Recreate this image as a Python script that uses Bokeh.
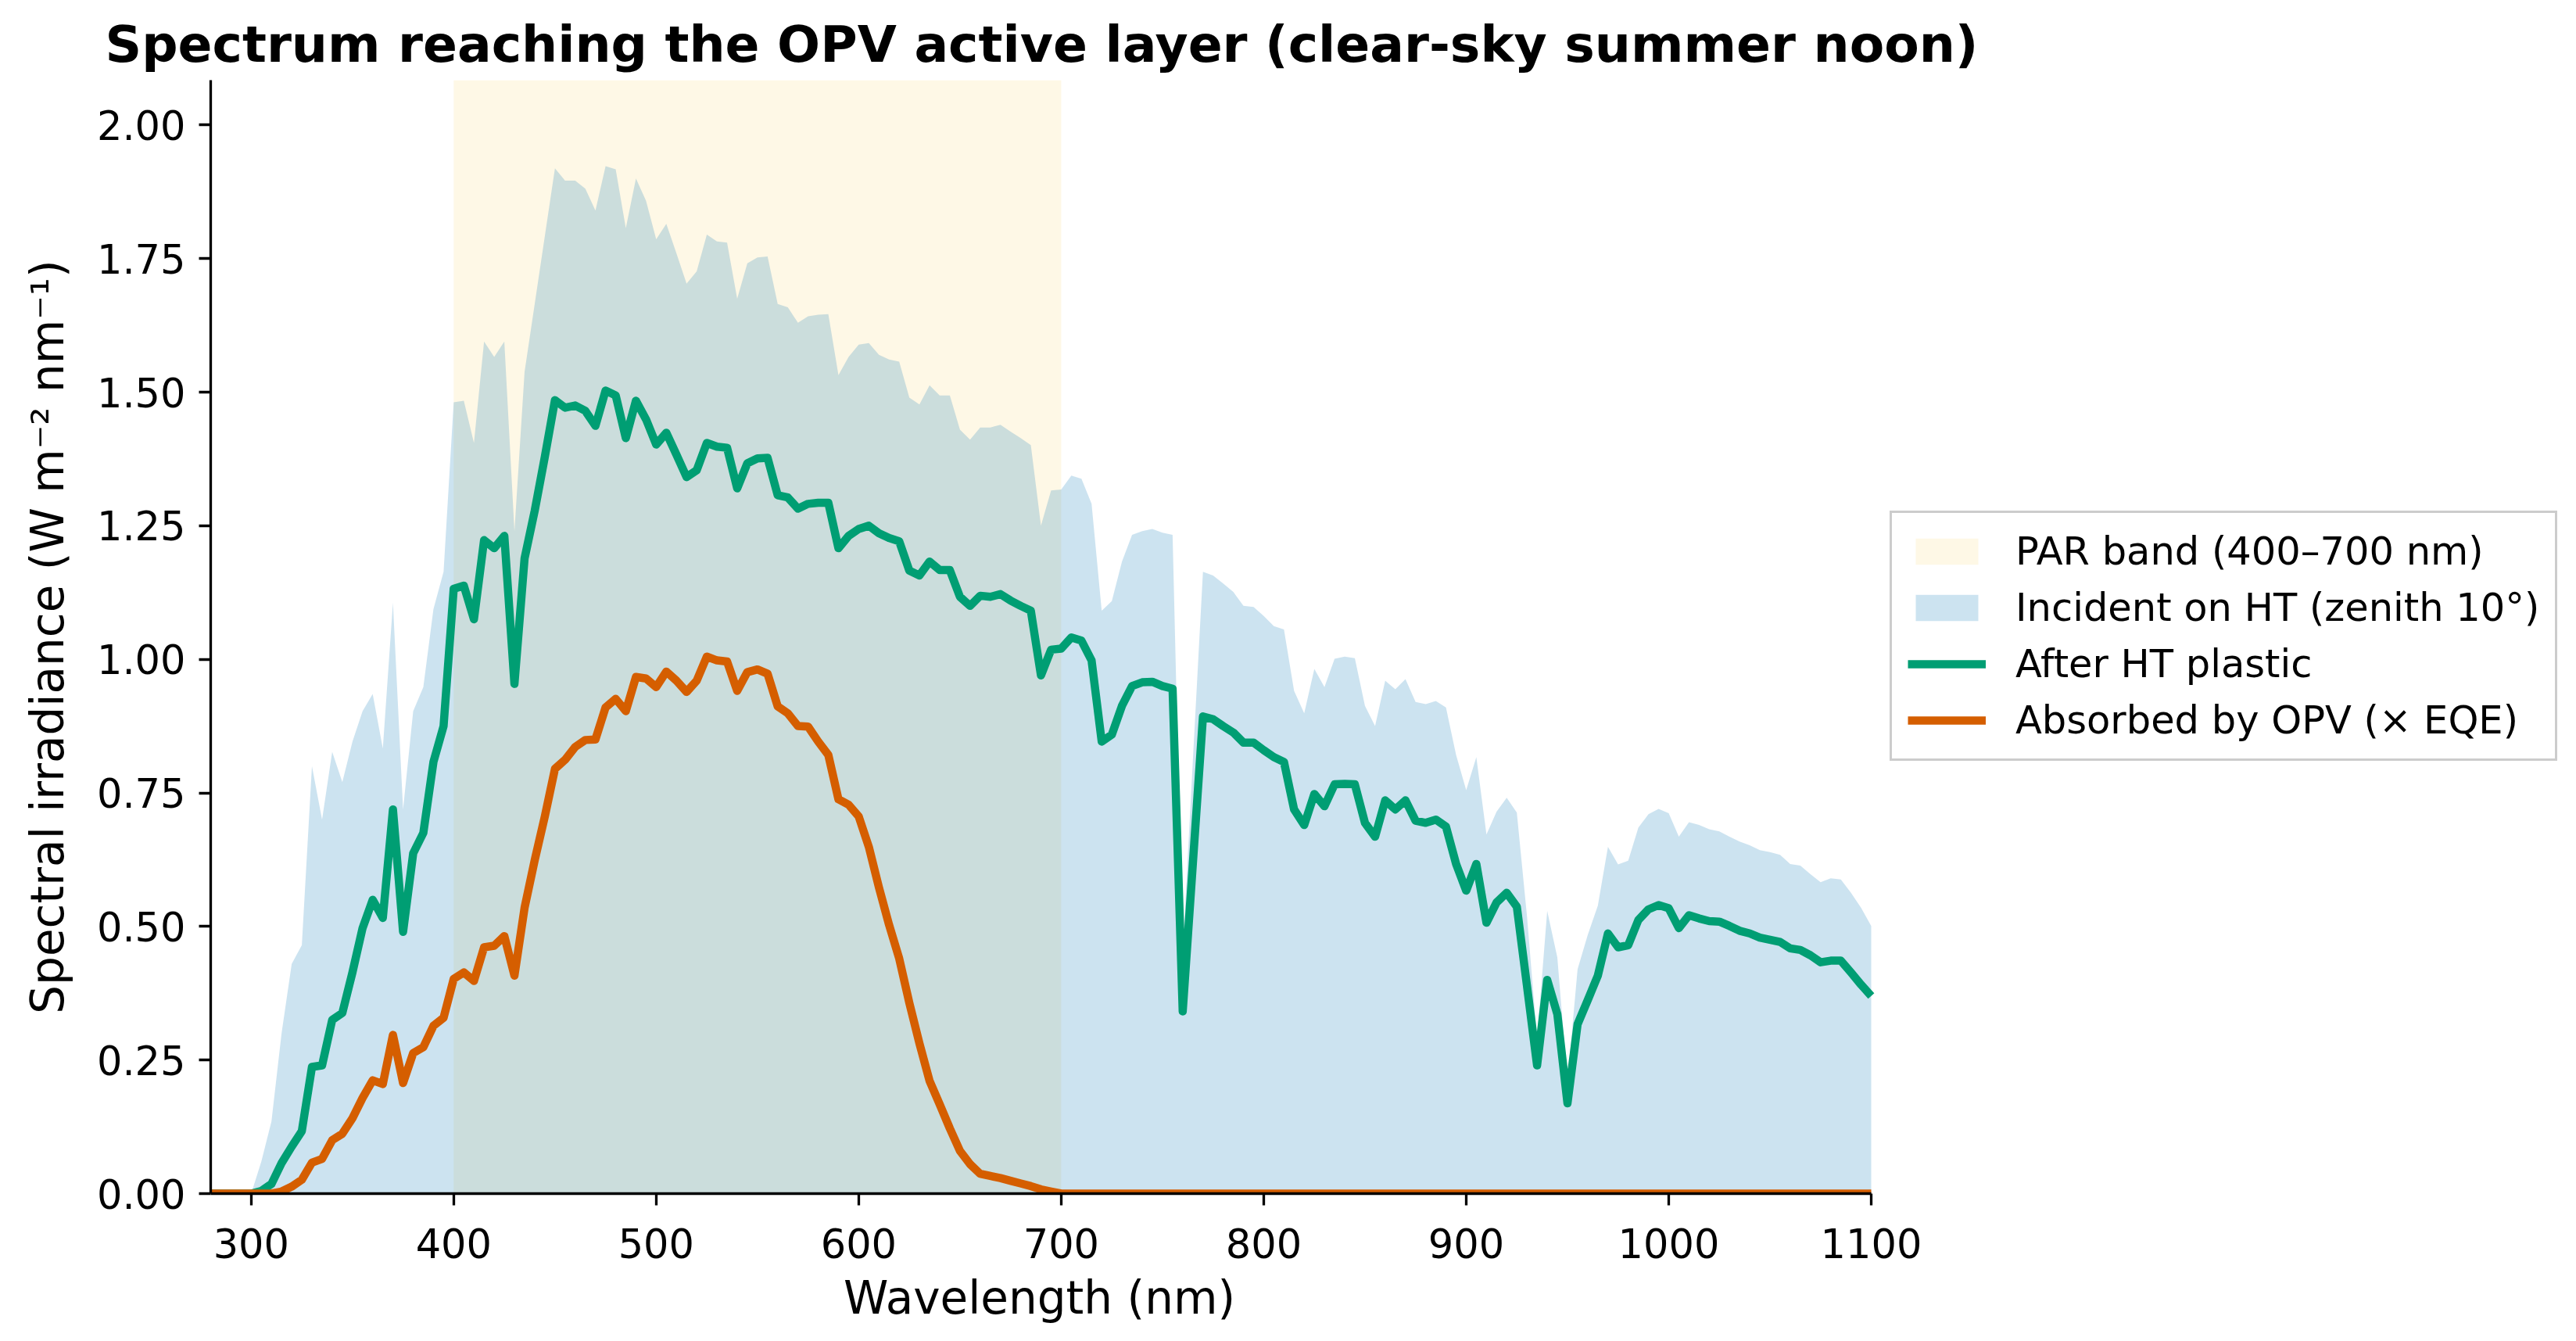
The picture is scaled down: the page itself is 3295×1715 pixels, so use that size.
from bokeh.plotting import figure
from bokeh.models import Range1d, FixedTicker, PrintfTickFormatter, Legend, LegendItem, Title
from bokeh.embed import file_html
from bokeh.resources import INLINE

# Wavelength grid (nm), 5 nm steps
wavelength = list(range(280, 1101, 5))

# Spectral irradiance incident on the HT cover (W m^-2 nm^-1)
incident = [
    0.0, 0.0, 0.0, 0.0, 0.0, 0.06, 0.135, 0.30, 0.43, 0.465,           # 280-325
    0.80, 0.70, 0.827, 0.77, 0.846, 0.903, 0.935, 0.833, 1.106, 0.719,  # 330-375
    0.903, 0.948, 1.094, 1.164, 1.481, 1.484, 1.405, 1.595, 1.566, 1.595,  # 380-425
    1.240, 1.538, 1.665, 1.792, 1.919, 1.896, 1.896, 1.881, 1.840, 1.923,  # 430-475
    1.917, 1.807, 1.900, 1.858, 1.786, 1.815, 1.760, 1.703, 1.726, 1.795,  # 480-525
    1.782, 1.780, 1.675, 1.741, 1.752, 1.754, 1.665, 1.659, 1.630, 1.642,  # 530-575
    1.645, 1.646, 1.532, 1.566, 1.589, 1.592, 1.570, 1.561, 1.557, 1.490,  # 580-625
    1.477, 1.513, 1.494, 1.494, 1.430, 1.411, 1.434, 1.434, 1.439, 1.426,  # 630-675
    1.414, 1.401, 1.250, 1.316, 1.318, 1.344, 1.338, 1.291, 1.091, 1.109,  # 680-725
    1.183, 1.233, 1.240, 1.244, 1.237, 1.233, 0.45, 0.81, 1.164, 1.157,    # 730-775
    1.142, 1.126, 1.100, 1.098, 1.081, 1.062, 1.056, 0.941, 0.899, 0.982,  # 780-825
    0.948, 1.001, 1.005, 1.002, 0.913, 0.875, 0.960, 0.944, 0.963, 0.920,  # 830-875
    0.916, 0.922, 0.910, 0.821, 0.755, 0.817, 0.672, 0.715, 0.741, 0.713,  # 880-925
    0.52, 0.29, 0.529, 0.442, 0.21, 0.420, 0.484, 0.539, 0.649, 0.616,     # 930-975
    0.623, 0.685, 0.710, 0.720, 0.712, 0.668, 0.695, 0.690, 0.682, 0.678,  # 980-1025
    0.668, 0.659, 0.652, 0.643, 0.639, 0.634, 0.617, 0.614, 0.598, 0.583,  # 1030-1075
    0.590, 0.588, 0.563, 0.535, 0.501,                                     # 1080-1100
]

# After transmission through the HT plastic
after_ht = [
    0.0, 0.0, 0.0, 0.0, 0.0, 0.005, 0.018, 0.057, 0.088, 0.117,
    0.237, 0.240, 0.325, 0.338, 0.414, 0.497, 0.550, 0.516, 0.719, 0.490,
    0.637, 0.675, 0.808, 0.875, 1.132, 1.138, 1.075, 1.223, 1.208, 1.231,
    0.954, 1.189, 1.278, 1.379, 1.485, 1.471, 1.475, 1.465, 1.437, 1.503,
    1.494, 1.414, 1.484, 1.449, 1.402, 1.424, 1.383, 1.341, 1.354, 1.405,
    1.398, 1.396, 1.320, 1.367, 1.376, 1.377, 1.307, 1.303, 1.282, 1.291,
    1.293, 1.293, 1.208, 1.231, 1.244, 1.250, 1.236, 1.227, 1.221, 1.166,
    1.157, 1.183, 1.167, 1.167, 1.117, 1.100, 1.119, 1.117, 1.122, 1.110,
    1.100, 1.091, 0.970, 1.018, 1.020, 1.041, 1.035, 0.998, 0.846, 0.859,
    0.913, 0.950, 0.957, 0.958, 0.950, 0.945, 0.341, 0.617, 0.893, 0.888,
    0.875, 0.863, 0.844, 0.844, 0.830, 0.817, 0.808, 0.719, 0.690, 0.748,
    0.725, 0.766, 0.767, 0.766, 0.694, 0.668, 0.736, 0.719, 0.736, 0.698,
    0.694, 0.700, 0.687, 0.617, 0.567, 0.617, 0.507, 0.545, 0.563, 0.537,
    0.389, 0.240, 0.400, 0.336, 0.169, 0.317, 0.362, 0.408, 0.487, 0.461,
    0.465, 0.512, 0.532, 0.540, 0.534, 0.497, 0.521, 0.515, 0.510, 0.509,
    0.501, 0.492, 0.487, 0.479, 0.475, 0.471, 0.459, 0.456, 0.446, 0.433,
    0.436, 0.436, 0.414, 0.391, 0.370,
]

# Absorbed in the OPV active layer (after HT, weighted by EQE)
absorbed = [
    0.0, 0.0, 0.0, 0.0, 0.0, 0.0, 0.0, 0.004, 0.013, 0.026,
    0.058, 0.065, 0.100, 0.112, 0.141, 0.179, 0.212, 0.205, 0.297, 0.207,
    0.263, 0.274, 0.314, 0.329, 0.402, 0.414, 0.398, 0.461, 0.464, 0.482,
    0.408, 0.535, 0.624, 0.706, 0.795, 0.812, 0.836, 0.849, 0.850, 0.910,
    0.926, 0.903, 0.967, 0.964, 0.948, 0.977, 0.960, 0.939, 0.960, 1.005,
    0.998, 0.996, 0.941, 0.976, 0.981, 0.973, 0.912, 0.899, 0.875, 0.874,
    0.846, 0.821, 0.738, 0.728, 0.706, 0.649, 0.573, 0.503, 0.440, 0.357,
    0.281, 0.211, 0.167, 0.122, 0.080, 0.055, 0.037, 0.033, 0.029, 0.024,
    0.019, 0.014, 0.008, 0.004, 0.0, 0.0, 0.0, 0.0, 0.0, 0.0,
    0.0, 0.0, 0.0, 0.0, 0.0, 0.0, 0.0, 0.0, 0.0, 0.0,
    0.0, 0.0, 0.0, 0.0, 0.0, 0.0, 0.0, 0.0, 0.0, 0.0,
    0.0, 0.0, 0.0, 0.0, 0.0, 0.0, 0.0, 0.0, 0.0, 0.0,
    0.0, 0.0, 0.0, 0.0, 0.0, 0.0, 0.0, 0.0, 0.0, 0.0,
    0.0, 0.0, 0.0, 0.0, 0.0, 0.0, 0.0, 0.0, 0.0, 0.0,
    0.0, 0.0, 0.0, 0.0, 0.0, 0.0, 0.0, 0.0, 0.0, 0.0,
    0.0, 0.0, 0.0, 0.0, 0.0, 0.0, 0.0, 0.0, 0.0, 0.0,
    0.0, 0.0, 0.0, 0.0, 0.0,
]

par_band = (400, 700)
x_limits = (280, 1100)
y_limits = (0.0, 2.084)
x_ticks = [300, 400, 500, 600, 700, 800, 900, 1000, 1100]
y_ticks = [0.0, 0.25, 0.5, 0.75, 1.0, 1.25, 1.5, 1.75, 2.0]

labels = [
    "PAR band (400–700 nm)",
    "Incident on HT (zenith 10°)",
    "After HT plastic",
    "Absorbed by OPV (× EQE)",
]
x_label = "Wavelength (nm)"
y_label = "Spectral irradiance (W m⁻² nm⁻¹)"
title = "Spectrum reaching the OPV active layer (clear-sky summer noon)"

FONT = "DejaVu Sans"

# Page layout (px): the data area spans PLOT_W pixels for the x limits; the
# frame continues to the right edge so the legend can sit beside the data.
W, H = 3295, 1715
LEFT, TOP, BOTTOM = 269, 102, 189
PLOT_W = 2124
FRAME_W = W - LEFT
px_per_nm = PLOT_W / (x_limits[1] - x_limits[0])
x_view_end = x_limits[0] + FRAME_W / px_per_nm
X_LABEL_W = 505  # rendered width of the x-axis title at 58px

p = figure(
    width=W, height=H,
    output_backend="svg", toolbar_location=None,
    x_range=Range1d(x_limits[0], x_view_end), y_range=Range1d(*y_limits),
    min_border_left=LEFT, min_border_right=0,
    min_border_top=TOP, min_border_bottom=BOTTOM,
    background_fill_color="white", border_fill_color="white",
)
p.outline_line_color = None
p.grid.visible = False

# Title
p.title.text = title
p.title.text_font = FONT
p.title.text_font_size = "64.8px"
p.title.text_font_style = "bold"
p.title.text_color = "black"
p.title.align = "left"
p.title.offset = -135
p.title.standoff = 18

# PAR band shading
band = p.quad(left=[par_band[0]], right=[par_band[1]], bottom=[y_limits[0]], top=[y_limits[1]],
              fill_color="#FEF8E6", fill_alpha=1.0, line_color=None)

# Incident spectrum (filled)
inc = p.varea(x=wavelength, y1=[0.0] * len(wavelength), y2=incident,
              fill_color="#0072B2", fill_alpha=0.2)

# Transmitted and absorbed spectra
aft = p.line(wavelength, after_ht, line_color="#009E73", line_width=10.5, line_join="round")
absb = p.line(wavelength, absorbed, line_color="#D55E00", line_width=10.5, line_join="round")

# Axes
for ax in (p.xaxis[0], p.yaxis[0]):
    ax.axis_line_color = "black"
    ax.axis_line_width = 3.3
    ax.major_tick_line_color = "black"
    ax.major_tick_line_width = 3.3
    ax.major_tick_out = 15
    ax.major_tick_in = 0
    ax.minor_tick_line_color = None
    ax.major_label_text_font = FONT
    ax.major_label_text_font_size = "51px"
    ax.major_label_text_color = "black"
    ax.axis_label_text_font = FONT
    ax.axis_label_text_font_size = "58px"
    ax.axis_label_text_font_style = "normal"
    ax.axis_label_text_color = "black"

p.xaxis.bounds = x_limits
p.xaxis.ticker = FixedTicker(ticks=x_ticks)
p.yaxis.ticker = FixedTicker(ticks=y_ticks)
p.yaxis.formatter = PrintfTickFormatter(format="%.2f")
p.yaxis.axis_label = y_label
p.xaxis.major_label_standoff = 29
p.yaxis.major_label_standoff = 17
p.yaxis.axis_label_standoff = 26

# x-axis title, centred under the data area rather than the whole frame
p.add_layout(
    Title(
        text=x_label, align="left", offset=PLOT_W / 2 - X_LABEL_W / 2,
        text_font=FONT, text_font_size="58px", text_font_style="normal",
        text_color="black", standoff=25,
    ),
    "below",
)

# Legend just to the right of the data area, vertically centred
legend = Legend(
    items=[
        LegendItem(label=labels[0], renderers=[band]),
        LegendItem(label=labels[1], renderers=[inc]),
        LegendItem(label=labels[2], renderers=[aft]),
        LegendItem(label=labels[3], renderers=[absb]),
    ],
    location=(PLOT_W + 24, 553),
    orientation="vertical",
    label_text_font=FONT,
    label_text_font_size="49.5px",
    label_text_color="black",
    glyph_width=100,
    glyph_height=42,
    label_height=42,
    label_standoff=38,
    spacing=14,
    padding=20,
    margin=0,
    border_line_color="#cccccc",
    border_line_width=3,
    border_line_alpha=1.0,
    background_fill_color="white",
    background_fill_alpha=0.8,
)
p.add_layout(legend)

open("out.html", "w").write(file_html(p, INLINE))
